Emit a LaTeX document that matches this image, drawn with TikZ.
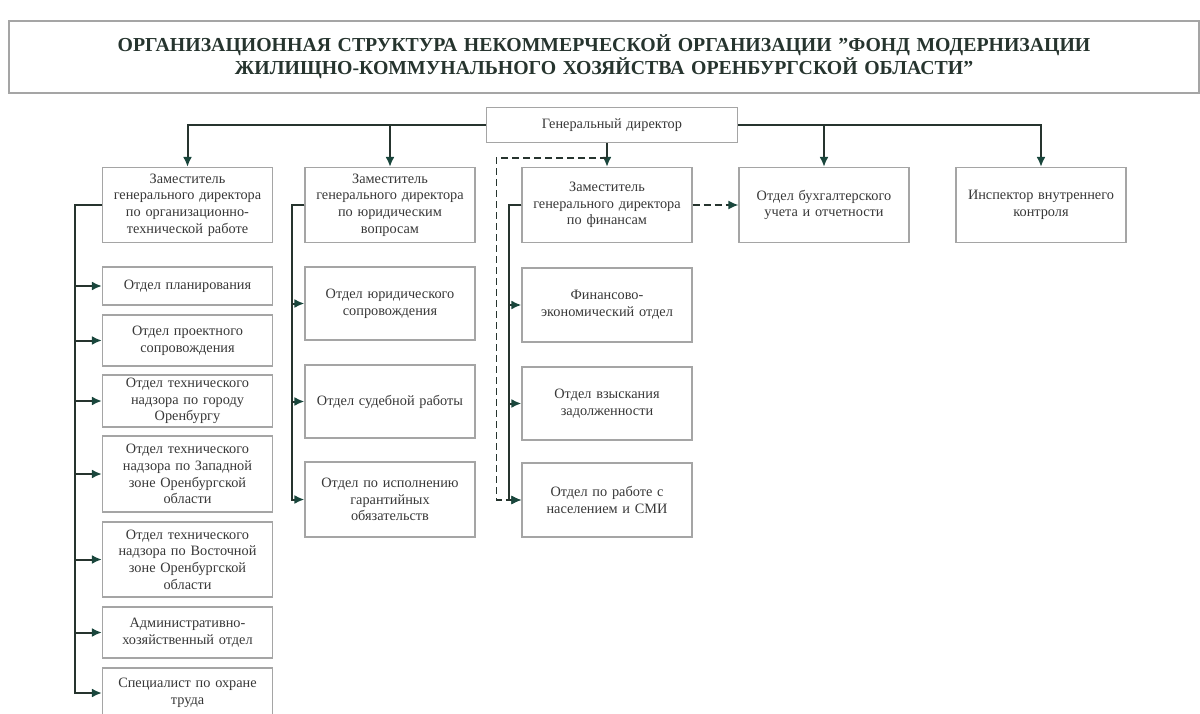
\documentclass[tikz,border=0pt]{standalone}
\usepackage{fontspec}
\setmainfont{Liberation Serif}
\usetikzlibrary{positioning,arrows.meta}
\definecolor{linecol}{RGB}{38,52,46}
\definecolor{tipcol}{RGB}{25,70,60}
\definecolor{boxcol}{RGB}{165,165,165}
\definecolor{txtcol}{RGB}{55,55,55}
\begin{document}
\begin{tikzpicture}[x=1pt,y=-1pt]
        \useasboundingbox (0,0) rectangle (1200,714);
        %\tikzstyle{block} = [rectangle, draw=black, text centered, minimum height=40pt]
        \tikzstyle{block} = [rectangle, text=txtcol, text centered, draw=boxcol, line width=1.2pt, font=\fontsize{14.3}{16.7}\selectfont, minimum width=170pt, minimum height=75pt, text width=166pt, inner sep=1pt]
        \tikzstyle{line} = [-{Latex[length=10pt,width=9pt,color=tipcol]},draw=linecol,line width=2pt]
        \tikzstyle{dashline} = [-{Latex[length=10pt,width=9pt,color=tipcol]},draw=linecol,line width=1.6pt,dash pattern=on 7pt off 4pt]
        \node[rectangle, draw=boxcol, line width=1.2pt, minimum width=1190pt, minimum height=72pt, text width=1180pt, align=center, text=linecol, font=\bfseries\fontsize{19.8}{23}\selectfont] (title) at (604,57) {ОРГАНИЗАЦИОННАЯ СТРУКТУРА НЕКОММЕРЧЕСКОЙ ОРГАНИЗАЦИИ "ФОНД МОДЕРНИЗАЦИИ\\ЖИЛИЩНО-КОММУНАЛЬНОГО ХОЗЯЙСТВА ОРЕНБУРГСКОЙ ОБЛАСТИ"};
        \node[block, minimum width=251pt, minimum height=35pt, text width=240pt] (gendir) at (612,125) {Генеральный директор};
        \node[block] (zamorg) at (187.5,205) {Заместитель\\генерального директора\\по организационно-\\технической работе};
        \node[block] (zamjur) at (390,205) {Заместитель\\генерального директора\\по юридическим\\вопросам};
        \node[block] (zamfin) at (607,205) {Заместитель\\генерального директора\\по финансам};
        \node[block] (buh) at (824,205) {Отдел бухгалтерского\\учета и отчетности};
        \node[block] (insp) at (1041,205) {Инспектор внутреннего\\контроля};
        \node[block, minimum height=38pt] (plan) at (187.5,286) {Отдел планирования};
        \node[block, minimum height=51pt] (proekt) at (187.5,340.5) {Отдел проектного\\сопровождения};
        \node[block, minimum height=52pt] (nadorg) at (187.5,401) {Отдел технического\\надзора по городу\\Оренбургу};
        \node[block, minimum height=76pt] (nadzap) at (187.5,474) {Отдел технического\\надзора по Западной\\зоне Оренбургской\\области};
        \node[block, minimum height=75pt] (nadvost) at (187.5,559.5) {Отдел технического\\надзора по Восточной\\зоне Оренбургской\\области};
        \node[block, minimum height=51pt] (admin) at (187.5,632.5) {Административно-\\хозяйственный отдел};
        \node[block, minimum height=50pt] (ohrana) at (187.5,693) {Специалист по охране\\труда};
        \node[block, minimum height=73pt] (jursopr) at (390,303.5) {Отдел юридического\\сопровождения};
        \node[block, minimum height=73pt] (sud) at (390,401.5) {Отдел судебной работы};
        \node[block] (garant) at (390,499.5) {Отдел по исполнению\\гарантийных\\обязательств};
        \node[block, minimum height=74pt] (finek) at (607,305) {Финансово-\\экономический отдел};
        \node[block, minimum height=73pt] (vzysk) at (607,403.5) {Отдел взыскания\\задолженности};
        \node[block, minimum height=74pt] (smi) at (607,500) {Отдел по работе с\\населением и СМИ};
        \coordinate (finbranch) at (607,158);
        \draw[line] (gendir.west) -| (zamorg.north);
        \draw[line] (gendir.west -| zamjur.north) -- (zamjur.north);
        \draw[line] (gendir.south -| zamfin.north) -- (zamfin.north);
        \draw[line] (gendir.east) -| (insp.north);
        \draw[line] (gendir.east -| buh.north) -- (buh.north);
        \foreach \n in {plan,proekt,nadorg,nadzap,nadvost,admin,ohrana}
          \draw[line] (zamorg.west) -- ++(-27,0) |- (\n.west);
        \foreach \n in {jursopr,sud,garant}
          \draw[line] (zamjur.west) -- ++(-12,0) |- (\n.west);
        \foreach \n in {finek,vzysk,smi}
          \draw[line] (zamfin.west) -- ++(-12,0) |- (\n.west);
        \draw[dashline] (finbranch) -| ([xshift=-25pt]smi.west) -- (smi.west);
        \draw[dashline] (zamfin.east) -- (buh.west);
    \end{tikzpicture}
\end{document}
